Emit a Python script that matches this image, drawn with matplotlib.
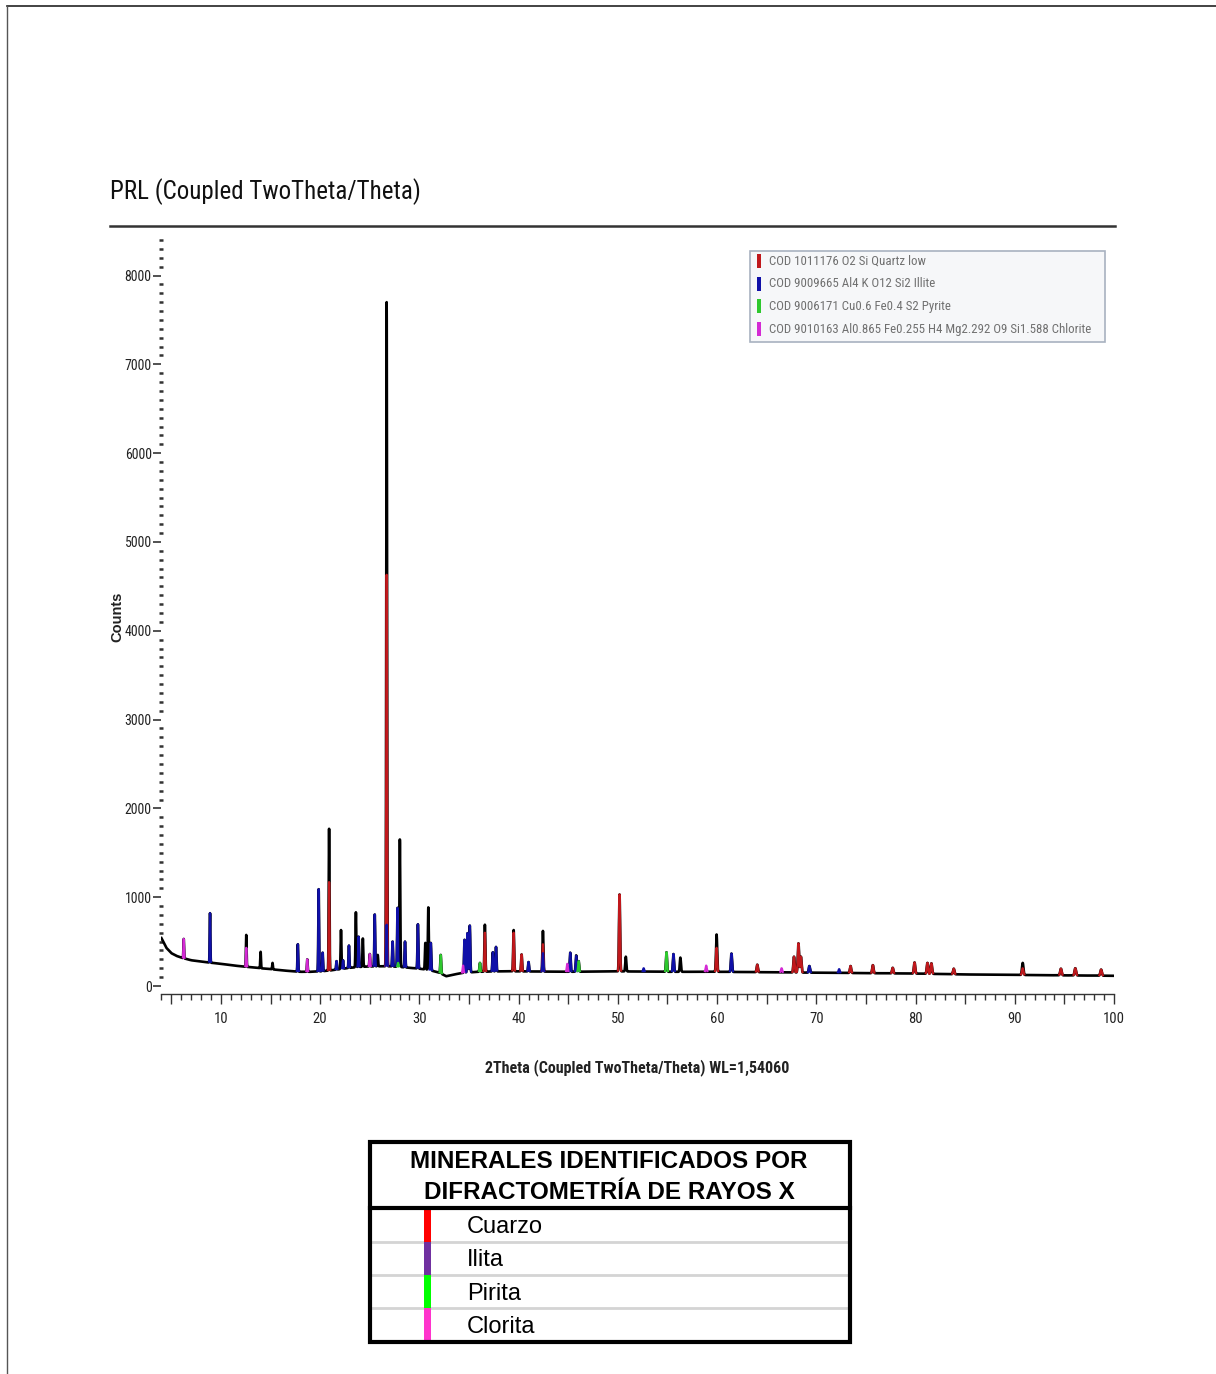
import numpy as np
import matplotlib
matplotlib.use("Agg")
import matplotlib.pyplot as plt
import matplotlib.font_manager as fm
from matplotlib.lines import Line2D
from matplotlib.patches import Rectangle
from matplotlib.ticker import MultipleLocator, FuncFormatter

# ---------------- data ----------------
bg_2theta = [4.0, 4.5, 5.0, 5.5, 6.0, 7.0, 8.0, 9.0, 10.0, 11.0, 12.0, 13.0, 14.0,
             15.0, 16.0, 17.0, 18.0, 19.0, 20.0, 21.0, 22.0, 23.0, 24.0, 25.0, 26.0,
             27.0, 28.0, 29.0, 30.0, 31.0, 32.0, 32.7, 33.5, 34.5, 36.0, 38.0, 40.0,
             45.0, 50.0, 55.0, 60.0, 65.0, 70.0, 75.0, 80.0, 85.0, 90.0, 95.0, 100.0]
bg_counts = [540, 430, 370, 340, 320, 290, 275, 262, 250, 235, 222, 212, 200,
             190, 178, 168, 160, 160, 165, 175, 190, 205, 215, 220, 222,
             222, 215, 205, 195, 180, 150, 110, 130, 150, 160, 165, 165,
             160, 165, 160, 160, 155, 150, 145, 140, 130, 125, 120, 115]

# observed pattern: peak positions (2theta) and peak-top counts
obs_pos = [6.25, 8.9, 12.55, 14.0, 15.2, 17.75, 18.7, 19.85, 20.25, 20.9, 21.65, 22.1,
           22.3, 22.9, 23.6, 23.87, 24.3, 25.0, 25.5, 25.8, 26.7, 27.3, 27.8, 28.03,
           28.55, 29.85, 30.6, 30.9, 31.15, 32.15, 34.55, 34.85, 35.08, 36.1, 36.6,
           37.4, 37.72, 39.5, 40.3, 41.0, 42.45, 45.2, 45.8, 46.05, 50.17, 50.8, 54.9,
           55.6, 56.3, 59.95, 61.45, 64.05, 67.75, 68.2, 68.45, 69.3, 73.45, 75.7,
           77.7, 79.9, 81.2, 81.6, 83.85, 90.8, 94.65, 96.1, 98.7]
obs_top = [530, 820, 575, 385, 260, 470, 300, 1090, 375, 1770, 280, 630,
           290, 455, 830, 555, 535, 360, 805, 350, 7700, 500, 880, 1650,
           500, 695, 485, 885, 485, 350, 520, 595, 680, 260, 690,
           380, 440, 630, 355, 270, 620, 375, 345, 280, 1030, 330, 380,
           360, 320, 580, 365, 240, 330, 480, 330, 225, 225, 235,
           205, 265, 260, 255, 195, 260, 195, 200, 185]

quartz_pos = [20.9, 26.7, 36.6, 39.5, 40.3, 42.45, 50.17, 59.95, 64.05, 67.75, 68.2,
              68.45, 73.45, 75.7, 77.7, 79.9, 81.2, 81.6, 83.85, 90.8, 94.65, 96.1, 98.7]
quartz_top = [1170, 4630, 600, 600, 355, 470, 1030, 430, 240, 330, 480,
              330, 225, 235, 205, 265, 260, 255, 195, 200, 195, 200, 185]

illite_pos = [8.9, 17.75, 19.85, 20.25, 21.65, 22.3, 22.9, 23.87, 25.5, 26.7, 27.3,
              27.8, 28.55, 29.85, 31.15, 34.55, 34.85, 35.08, 37.4, 37.72, 41.0, 42.45,
              45.2, 45.8, 52.6, 55.6, 61.45, 69.3, 72.3]
illite_top = [820, 470, 1090, 375, 280, 290, 455, 555, 805, 690, 500,
              880, 500, 695, 485, 520, 595, 680, 380, 440, 270, 370,
              375, 340, 200, 360, 365, 225, 190]

pyrite_pos = [27.85, 32.15, 36.1, 46.05, 54.9]
pyrite_top = [260, 350, 260, 280, 380]

chlorite_pos = [6.25, 12.55, 18.7, 25.0, 34.4, 44.9, 58.9, 66.5]
chlorite_top = [530, 430, 300, 360, 230, 250, 230, 200]

legend_labels = ["COD 1011176 O2 Si Quartz low",
                 "COD 9009665 Al4 K O12 Si2 Illite",
                 "COD 9006171 Cu0.6 Fe0.4 S2 Pyrite",
                 "COD 9010163 Al0.865 Fe0.255 H4 Mg2.292 O9 Si1.588 Chlorite"]
phase_colors = ["#c0181c", "#1010a8", "#2ec82e", "#d42ad4"]

table_title = "MINERALES IDENTIFICADOS POR\nDIFRACTOMETRÍA DE RAYOS X"
minerals = ["Cuarzo", "Ilita", "Pirita", "Clorita"]
mineral_colors = ["#ff0000", "#7030a0", "#00ff00", "#ff33cc"]

y_ticks = [0, 1000, 2000, 3000, 4000, 5000, 6000, 7000, 8000]
x_ticks = [10, 20, 30, 40, 50, 60, 70, 80, 90, 100]

# ---------------- fonts ----------------
names = {f.name for f in fm.fontManager.ttflist}
narrow = None
for cand in ["Liberation Sans Narrow", "Arial Narrow", "Roboto Condensed", "Open Sans Condensed"]:
    if cand in names:
        narrow = cand
        break
if narrow is None:
    narrow_kw = dict(family="DejaVu Sans", fontstretch="condensed")
else:
    narrow_kw = dict(family=narrow)
arial = "Liberation Sans" if "Liberation Sans" in names else "DejaVu Sans"

# ---------------- figure ----------------
W, H = 1216, 1374
fig = plt.figure(figsize=(W / 100, H / 100), dpi=100)


def fx(px):
    return px / W


def fy(py):
    return 1 - py / H


# page frame
fig.add_artist(Line2D([fx(7), 1.0], [fy(6), fy(6)], color="#222222", lw=1.2))
fig.add_artist(Line2D([fx(7), fx(7)], [fy(6), 0.0], color="#555555", lw=1.0))

# title and rule
fig.text(fx(110), fy(192), "PRL (Coupled TwoTheta/Theta)", fontsize=18, color="#111111",
         ha="left", va="center", **narrow_kw)
fig.add_artist(Line2D([fx(110), fx(1115)], [fy(226), fy(226)], color="#333333", lw=1.8))

ax = fig.add_axes([fx(161.4), fy(994), fx(1114) - fx(161.4), fy(240) - fy(994)])
ax.set_xlim(4, 100)
ax.set_ylim(-90, 8400)

x = np.arange(4.0, 100.0001, 0.01)
bg = np.interp(x, bg_2theta, bg_counts)


def peaks(pos, top):
    out = np.zeros_like(x)
    for p, t in zip(pos, top):
        amp = t - np.interp(p, bg_2theta, bg_counts)
        s = 0.028 + 0.0005 * p
        out += amp * np.exp(-0.5 * ((x - p) / s) ** 2)
    return out


obs = bg + peaks(obs_pos, obs_top)
ax.plot(x, obs, color="black", lw=1.9, zorder=2)

for pos, top, col in zip([quartz_pos, illite_pos, pyrite_pos, chlorite_pos],
                         [quartz_top, illite_top, pyrite_top, chlorite_top],
                         phase_colors):
    pk = peaks(pos, top)
    curve = np.where(pk > 6, bg + pk, np.nan)
    ax.plot(x, curve, color=col, lw=1.6, zorder=3)

# axes styling
for s in ["top", "right", "left"]:
    ax.spines[s].set_visible(False)
ax.spines["bottom"].set_color("#333333")
ax.spines["bottom"].set_linewidth(1.0)

ax.xaxis.set_major_locator(MultipleLocator(5))
ax.xaxis.set_minor_locator(MultipleLocator(1))
ax.xaxis.set_major_formatter(FuncFormatter(lambda v, p: f"{int(v)}" if int(round(v)) in x_ticks else ""))
ax.tick_params(axis="x", which="major", direction="out", length=7, width=1.0, color="#333333",
               labelsize=10.5, pad=6, labelcolor="#222222")
ax.tick_params(axis="x", which="minor", direction="out", length=4, width=1.0, color="#333333")

ax.set_yticks(y_ticks)
ax.yaxis.set_minor_locator(MultipleLocator(100))
ax.tick_params(axis="y", which="major", direction="out", length=6, width=1.2, color="#333333",
               labelsize=10, pad=1, labelcolor="#222222")
ax.tick_params(axis="y", which="minor", direction="inout", length=2.2, width=1.8, color="#333333")
for lab in ax.get_xticklabels() + ax.get_yticklabels():
    lab.set_fontproperties(fm.FontProperties(**{("stretch" if k == "fontstretch" else k): v
                                                for k, v in narrow_kw.items()}, size=lab.get_fontsize()))

# axis labels
fig.text(fx(117), fy(617), "Counts", rotation=90, fontsize=10.5, fontweight="bold",
         ha="center", va="center", color="#222222", family=arial)
fig.text(fx(637), fy(1068), "2Theta (Coupled TwoTheta/Theta) WL=1,54060", fontsize=11.5,
         fontweight="bold", ha="center", va="center", color="#222222", **narrow_kw)

# in-plot legend
fig.add_artist(Rectangle((fx(750), fy(342)), fx(1105) - fx(750), fy(251) - fy(342),
                         transform=fig.transFigure, facecolor="#f6f7f9", edgecolor="#a8b2c0", lw=1.2))
for i, (lab, col) in enumerate(zip(legend_labels, phase_colors)):
    yc = 261 + i * 22.7
    fig.add_artist(Rectangle((fx(757), fy(yc + 7)), fx(3.5), fy(yc - 7) - fy(yc + 7),
                             transform=fig.transFigure, facecolor=col, edgecolor="none"))
    fig.text(fx(769), fy(yc), lab, fontsize=9.3, color="#707070", ha="left", va="center", **narrow_kw)

# minerals table
tl, tr, tt, tb = 370, 850, 1142, 1342
rows = [1208, 1242, 1275, 1308, 1342]
for i, col in enumerate(mineral_colors):
    fig.add_artist(Rectangle((fx(424), fy(rows[i + 1])), fx(7), fy(rows[i]) - fy(rows[i + 1]),
                             transform=fig.transFigure, facecolor=col, edgecolor="none", zorder=3))
    fig.text(fx(467), fy((rows[i] + rows[i + 1]) / 2 + 2), minerals[i], fontsize=17, color="black",
             ha="left", va="center", family=arial, zorder=4)
for r in rows[1:-1]:
    fig.add_artist(Line2D([fx(tl), fx(tr)], [fy(r), fy(r)], color="#d4d4d4", lw=2, zorder=2))
fig.add_artist(Line2D([fx(tl), fx(tr)], [fy(rows[0]), fy(rows[0])], color="black", lw=3, zorder=5))
fig.add_artist(Rectangle((fx(tl), fy(tb)), fx(tr) - fx(tl), fy(tt) - fy(tb),
                         transform=fig.transFigure, facecolor="none", edgecolor="black", lw=3, zorder=5))
fig.text(fx(609), fy(1177), table_title, fontsize=17.5, fontweight="bold", ha="center", va="center",
         linespacing=1.45, family=arial, color="black")

fig.savefig("out.png", dpi=100, facecolor="white")
